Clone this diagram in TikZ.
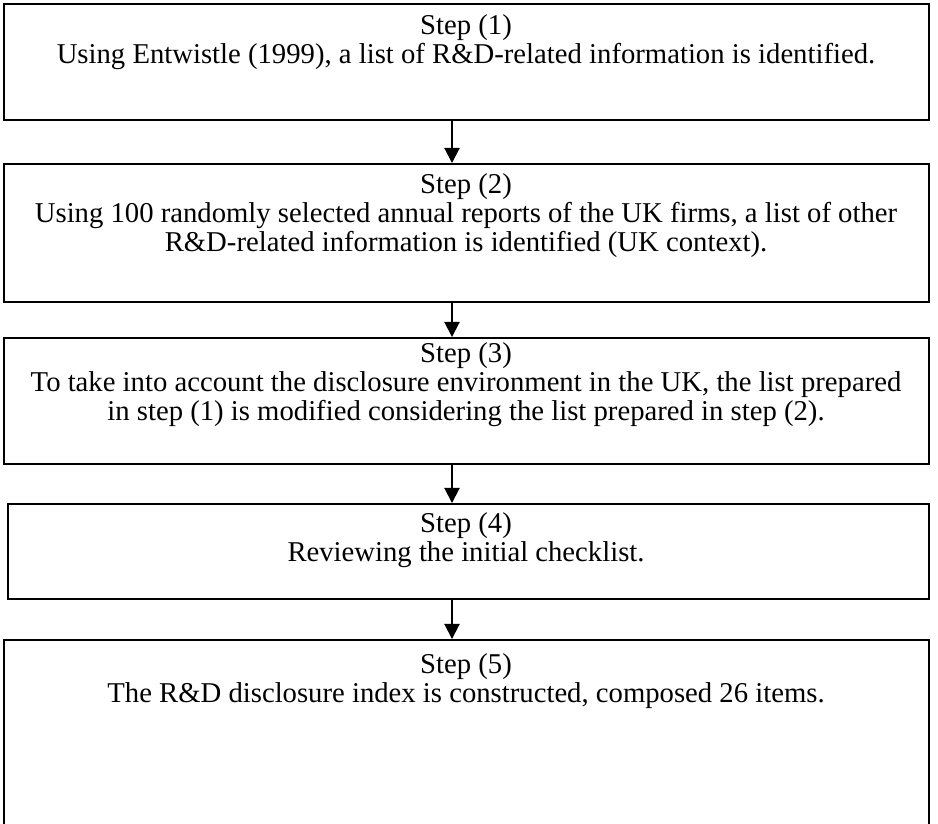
\documentclass[tikz,border=0pt]{standalone}
\usepackage{fontspec}
\setmainfont{Liberation Serif}
\usetikzlibrary{arrows.meta,fit}
\begin{document}
\begin{tikzpicture}[x=0.46pt,y=-0.46pt,
  stepbox/.style={draw, line width=0.9pt, inner sep=0pt},
  steptext/.style={anchor=north, align=center, inner sep=0pt,
    font=\fontsize{13.2}{13.4}\selectfont},
  flow/.style={-{Triangle[length=7pt,width=7pt]}, line width=0.9pt}]
\clip (0,0) rectangle (938,823);
\useasboundingbox (0,0) rectangle (938,823);

% the five step boxes
\node[stepbox, fit={(4,4) (929,120)}]   (b1) {};
\node[stepbox, fit={(4,164) (929,302)}] (b2) {};
\node[stepbox, fit={(4,338) (929,464)}] (b3) {};
\node[stepbox, fit={(8,504) (929,599)}] (b4) {};
\node[stepbox, fit={(4,640) (929,860)}] (b5) {};

% box texts
\node[steptext] (t1) at (466,14) {Step (1)\\Using Entwistle (1999), a list of R\&D-related information is identified.};
\node[steptext] (t2) at (466,173) {Step (2)\\Using 100 randomly selected annual reports of the UK firms, a list of other\\R\&D-related information is identified (UK context).};
\node[steptext] (t3) at (466,342) {Step (3)\\To take into account the disclosure environment in the UK, the list prepared\\in step (1) is modified considering the list prepared in step (2).};
\node[steptext] (t4) at (466,512) {Step (4)\\Reviewing the initial checklist.};
\node[steptext] (t5) at (466,653) {Step (5)\\The R\&D disclosure index is constructed, composed 26 items.};

% connectors
\coordinate (ax) at (452,0);
\draw[flow] (b1.south -| ax) -- (b2.north -| ax);
\draw[flow] (b2.south -| ax) -- (b3.north -| ax);
\draw[flow] (b3.south -| ax) -- (b4.north -| ax);
\draw[flow] (b4.south -| ax) -- (b5.north -| ax);
\end{tikzpicture}
\end{document}
